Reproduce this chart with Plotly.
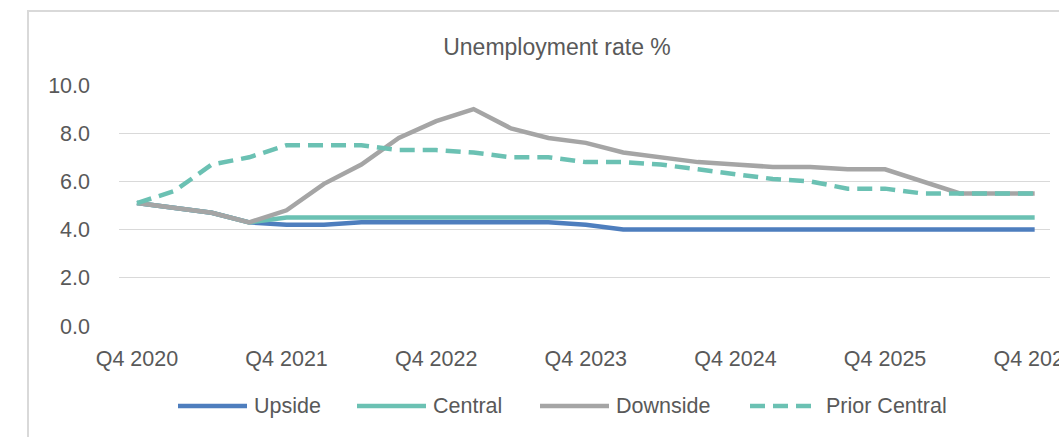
import plotly.graph_objects as go

quarters = ["Q4 2020", "Q1 2021", "Q2 2021", "Q3 2021", "Q4 2021",
            "Q1 2022", "Q2 2022", "Q3 2022", "Q4 2022",
            "Q1 2023", "Q2 2023", "Q3 2023", "Q4 2023",
            "Q1 2024", "Q2 2024", "Q3 2024", "Q4 2024",
            "Q1 2025", "Q2 2025", "Q3 2025", "Q4 2025",
            "Q1 2026", "Q2 2026", "Q3 2026", "Q4 2026"]

upside = [5.1, 4.9, 4.7, 4.3, 4.2, 4.2, 4.3, 4.3, 4.3, 4.3, 4.3, 4.3, 4.2,
          4.0, 4.0, 4.0, 4.0, 4.0, 4.0, 4.0, 4.0, 4.0, 4.0, 4.0, 4.0]
central = [5.1, 4.9, 4.7, 4.3, 4.5, 4.5, 4.5, 4.5, 4.5, 4.5, 4.5, 4.5, 4.5,
           4.5, 4.5, 4.5, 4.5, 4.5, 4.5, 4.5, 4.5, 4.5, 4.5, 4.5, 4.5]
downside = [5.1, 4.9, 4.7, 4.3, 4.8, 5.9, 6.7, 7.8, 8.5, 9.0, 8.2, 7.8, 7.6,
            7.2, 7.0, 6.8, 6.7, 6.6, 6.6, 6.5, 6.5, 6.0, 5.5, 5.5, 5.5]
prior_central = [5.1, 5.6, 6.7, 7.0, 7.5, 7.5, 7.5, 7.3, 7.3, 7.2, 7.0, 7.0, 6.8,
                 6.8, 6.7, 6.5, 6.3, 6.1, 6.0, 5.7, 5.7, 5.5, 5.5, 5.5, 5.5]

series_names = ["Upside", "Central", "Downside", "Prior Central"]
series_values = [upside, central, downside, prior_central]
series_colors = ["#4E7EBE", "#6BC1B3", "#A5A5A5", "#6BC1B3"]
series_dash = ["solid", "solid", "solid", "15px,8px"]

x_tick_positions = [0, 4, 8, 12, 16, 20, 24]
x_tick_labels = [quarters[i] for i in x_tick_positions]
y_tick_values = [0, 2, 4, 6, 8, 10]
y_tick_labels = ["0.0", "2.0", "4.0", "6.0", "8.0", "10.0"]

FONT = "Liberation Sans, Arial, sans-serif"
TXT = "#595959"

W, H = 1059, 437
L, R, T, B = 119, 9, 85, 111
pw, ph = W - L - R, H - T - B

fig = go.Figure()
xs = list(range(len(quarters)))
for name, vals, col, dash in zip(series_names, series_values, series_colors, series_dash):
    fig.add_trace(go.Scatter(x=xs, y=vals, mode="lines", name=name,
                             line=dict(color=col, width=4.5, dash=dash),
                             showlegend=False, hovertext=quarters))

def px_x(p):
    return (p - L) / pw

def px_y(p):
    return (H - B - p) / ph

shapes = []
annotations = []
# chart border
shapes.append(dict(type="rect", xref="paper", yref="paper",
                   x0=px_x(28), x1=px_x(1200), y0=px_y(600), y1=px_y(11),
                   line=dict(color="#D9D9D9", width=2), fillcolor="rgba(0,0,0,0)", layer="below"))

# legend
leg_line_start = [178, 357, 540, 750]
leg_line_len = 69
leg_y = 406
for name, col, dash, x0 in zip(series_names, series_colors, series_dash, leg_line_start):
    shapes.append(dict(type="line", xref="paper", yref="paper",
                       x0=px_x(x0), x1=px_x(x0 + leg_line_len), y0=px_y(leg_y), y1=px_y(leg_y),
                       line=dict(color=col, width=4.5, dash=dash)))
    annotations.append(dict(text=name, xref="paper", yref="paper",
                            x=px_x(x0 + leg_line_len + 5), y=px_y(leg_y),
                            xanchor="left", yanchor="middle", showarrow=False,
                            font=dict(family=FONT, size=21.5, color=TXT)))

fig.update_layout(
    width=W, height=H,
    margin=dict(l=L, r=R, t=T, b=B, pad=0, autoexpand=False),
    paper_bgcolor="white", plot_bgcolor="white",
    title=dict(text="Unemployment rate %", x=557 / W, xanchor="center",
               y=1 - 47 / H, yanchor="middle", xref="container", yref="container",
               font=dict(family=FONT, size=23, color=TXT)),
    xaxis=dict(range=[-0.48, 24.41], tickmode="array", tickvals=x_tick_positions,
               ticktext=x_tick_labels, showgrid=False, zeroline=False, showline=False,
               ticks="", ticklabelstandoff=17, ticklabeloverflow="allow", automargin=False,
               tickfont=dict(family=FONT, size=21.5, color=TXT)),
    yaxis=dict(range=[0, 10], tickmode="array", tickvals=y_tick_values,
               ticktext=y_tick_labels, showgrid=True, gridcolor="#D9D9D9", gridwidth=1.3,
               zeroline=False, showline=False, ticks="", ticklabelstandoff=28, automargin=False,
               tickfont=dict(family=FONT, size=21.5, color=TXT)),
    shapes=shapes, annotations=annotations,
    showlegend=False,
)

fig.write_html("out.html")
